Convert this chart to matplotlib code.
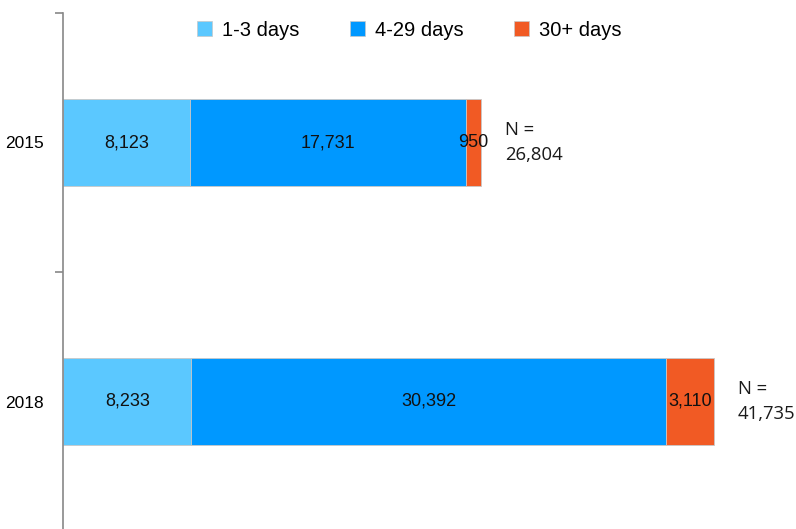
import matplotlib
matplotlib.use("Agg")
import matplotlib.pyplot as plt
from matplotlib.patches import Patch

years = ["2015", "2018"]
series_names = ["1-3 days", "4-29 days", "30+ days"]
short_stay = [8123, 8233]
mid_stay = [17731, 30392]
long_stay = [950, 3110]
totals = [26804, 41735]

colors = ["#5BC8FF", "#0098FF", "#F15A24"]

fig = plt.figure(figsize=(7.96, 5.29), dpi=100)
ax = fig.add_axes([63 / 796, -2 / 529, 702 / 796, 518 / 529])

ypos = list(range(len(years)))
left = [0] * len(years)
for vals, col in zip([short_stay, mid_stay, long_stay], colors):
    ax.barh(ypos, vals, left=left, height=0.335, color=col,
            edgecolor="#C8C8C8", linewidth=0.6)
    for y, l, v in zip(ypos, left, vals):
        ax.text(l + v / 2, y, f"{v:,}", ha="center", va="center",
                fontsize=13, family="Liberation Sans", color="#111111")
    left = [a + b for a, b in zip(left, vals)]

for y, t in zip(ypos, totals):
    ax.annotate(f"N =\n{t:,}", xy=(t, y), xytext=(17, 0),
                textcoords="offset points", ha="left", va="center",
                fontsize=13.3, family="Open Sans", color="#1A1A1A",
                linespacing=1.5)

ax.set_xlim(0, 45000)
ax.set_ylim(len(years) - 0.5, -0.5)
ax.set_yticks(ypos)
ax.set_yticklabels(years, fontsize=12.5, family="Liberation Sans")
ax.tick_params(axis="y", which="major", length=0, pad=14)
ax.set_yticks([-0.5, 0.5, 1.5], minor=True)
ax.tick_params(axis="y", which="minor", length=6, width=1.2, color="#888888",
               direction="out")
ax.set_xticks([])
for side in ["top", "right", "bottom"]:
    ax.spines[side].set_visible(False)
ax.spines["left"].set_color("#888888")
ax.spines["left"].set_linewidth(1.2)

handles = [Patch(facecolor=c, edgecolor="#C8C8C8", linewidth=0.5) for c in colors]
fig.legend(handles, series_names, loc="center", bbox_to_anchor=(409 / 796, 1 - 30 / 529),
           ncol=3, frameon=False, prop={"family": "Liberation Sans", "size": 14.5},
           handlelength=0.75, handleheight=0.75, handletextpad=0.5, columnspacing=2.5)

fig.savefig("out.png", dpi=100)
